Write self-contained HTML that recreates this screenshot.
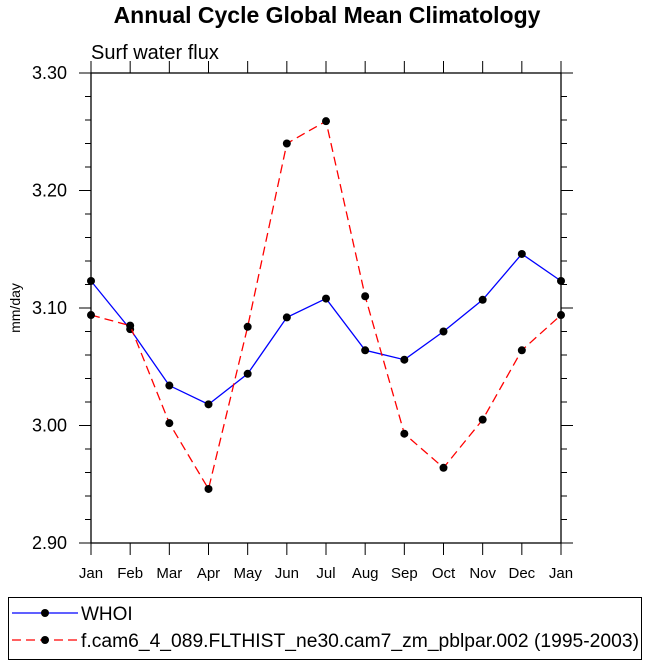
<!DOCTYPE html>
<html><head><meta charset="utf-8"><style>body{margin:0;background:#fff}svg{display:block;font-family:"Liberation Sans",sans-serif}</style></head>
<body>
<svg width="649" height="665">
<text x="327" y="23" text-anchor="middle" font-size="23" font-weight="bold">Annual Cycle Global Mean Climatology</text>
<text x="91" y="59" font-size="20">Surf water flux</text>
<text transform="translate(20,308) rotate(-90)" text-anchor="middle" font-size="14">mm/day</text>
<g id="axes"></g>
<g id="series"></g>
<g>
<rect x="8.5" y="597.5" width="633" height="62" fill="none" stroke="#000"/>
<g><line x1="12" y1="613" x2="78" y2="613" stroke="#00f" stroke-width="1.3"/><circle cx="45" cy="613" r="4" fill="#000"/><text x="81" y="620" font-size="19">WHOI</text></g>
<g><line x1="12" y1="640" x2="78" y2="640" stroke="#f00" stroke-width="1.3" stroke-dasharray="9,5"/><circle cx="45" cy="640" r="4" fill="#000"/><text x="81" y="647" font-size="19" textLength="558" lengthAdjust="spacingAndGlyphs">f.cam6_4_089.FLTHIST_ne30.cam7_zm_pblpar.002 (1995-2003)</text></g>
</g>
</svg>
<script>
const months=["Jan","Feb","Mar","Apr","May","Jun","Jul","Aug","Sep","Oct","Nov","Dec","Jan"];
const whoi=[3.123,3.082,3.034,3.018,3.044,3.092,3.108,3.064,3.056,3.080,3.107,3.146,3.123];
const model=[3.094,3.085,3.002,2.946,3.084,3.240,3.259,3.110,2.993,2.964,3.005,3.064,3.094];
const yTicks=["2.90","3.00","3.10","3.20","3.30"];
const X0=91,X1=561,Y0=543,Y1=73,ymin=2.9,ymax=3.3;
const xs=i=>X0+(X1-X0)*i/(months.length-1);
const ys=v=>Y0-(v-ymin)/(ymax-ymin)*(Y0-Y1);
const NS="http://www.w3.org/2000/svg";
function mk(t,a,p){const e=document.createElementNS(NS,t);for(const k in a)e.setAttribute(k,a[k]);p.appendChild(e);return e;}
const ax=document.getElementById('axes');
const fr=mk('rect',{x:X0,y:Y1,width:X1-X0,height:Y0-Y1,fill:'none',stroke:'#000','stroke-width':1.3},ax);


months.forEach((m,i)=>{const x=xs(i);
mk('line',{x1:x,y1:Y0,x2:x,y2:Y0+12,stroke:'#000'},ax);
mk('line',{x1:x,y1:Y1,x2:x,y2:Y1-12,stroke:'#000'},ax);
const t=mk('text',{x:x,y:Y0+35,'text-anchor':'middle','font-size':15},ax);t.textContent=m;

});
for(let k=0;k<=20;k++){const v=ymin+k*0.02,y=ys(v),L=k%5==0?12:6;
mk('line',{x1:X0,y1:y,x2:X0-L,y2:y,stroke:'#000'},ax);
mk('line',{x1:X1,y1:y,x2:X1+L,y2:y,stroke:'#000'},ax);}
yTicks.forEach(s=>{const t=mk('text',{x:X0-24,y:ys(+s)+6,'text-anchor':'end','font-size':18},ax);t.textContent=s;

});
const sg=document.getElementById('series');
function series(d,c,dash,name){const g=mk('g',{},sg);


mk('polyline',{points:d.map((v,i)=>xs(i)+','+ys(v)).join(' '),fill:'none',stroke:c,'stroke-width':1.3,'stroke-dasharray':dash},g);
d.forEach((v,i)=>mk('circle',{cx:xs(i),cy:ys(v),r:4,fill:'#000'},g));}
series(whoi,'#00f','none','series-whoi');
series(model,'#f00','9,5','series-model');
</script>
</body></html>
